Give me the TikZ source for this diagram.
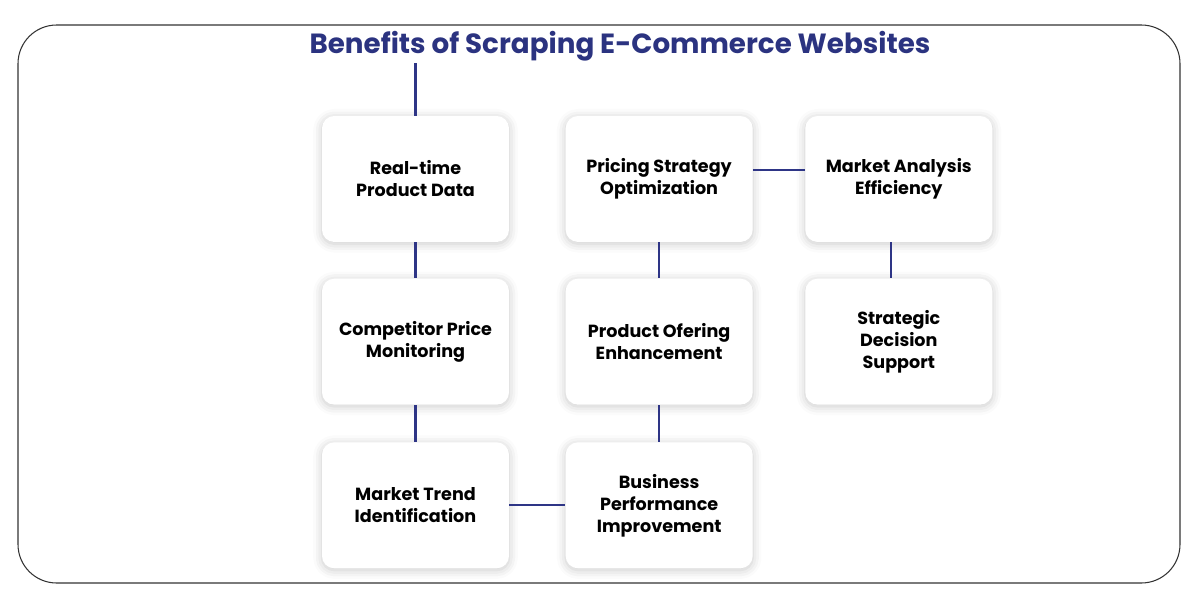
\documentclass[tikz,border=0pt]{standalone}
\usepackage{fontspec}
\setmainfont{Poppins}
\usetikzlibrary{positioning, shadows.blur}
\definecolor{titlenavy}{HTML}{2B3380}
\definecolor{linknavy}{HTML}{2E3586}
\definecolor{framegray}{HTML}{333333}

\begin{document}
\begin{tikzpicture}[
  x=0.02cm, y=-0.02cm,
  benefit/.style={
    rectangle, rounded corners=7pt,
    minimum width=3.74cm, minimum height=2.52cm,
    fill=white, draw=none, align=center,
    font=\fontsize{10}{12.5}\selectfont\bfseries,
    blur shadow={shadow xshift=0pt, shadow yshift=-1pt,
      shadow opacity=22, shadow blur radius=5pt}
  },
  link/.style={draw=linknavy, line width=1.3pt}
]
  \useasboundingbox (0,0) rectangle (1198,599);

  % Outer frame
  \draw[framegray, line width=0.6pt, rounded corners=22pt] (18,25) rectangle (1180,583);

  % Title
  \node[font=\fontsize{15.8}{18}\selectfont\bfseries, text=titlenavy, inner sep=1pt] (title) at (620,46)
        {Benefits of Scraping E-Commerce Websites};

  % Left column
  \node[benefit] (rtp) at (415.5,179) {Real-time\\Product Data};
  \node[benefit, below=0.72cm of rtp] (cpm) {Competitor Price\\Monitoring};
  \node[benefit, below=0.74cm of cpm] (mti) {Market Trend\\Identification};

  % Middle column
  \node[benefit, right=1.12cm of rtp] (pso) {Pricing Strategy\\Optimization};
  \node[benefit, below=0.72cm of pso] (poe) {Product Ofering\\Enhancement};
  \node[benefit, below=0.74cm of poe] (bpi) {Business\\Performance\\Improvement};

  % Right column
  \node[benefit, right=1.04cm of pso] (mae) {Market Analysis\\Efficiency};
  \node[benefit, below=0.72cm of mae] (sds) {Strategic\\Decision\\Support};

  % Connectors
  \draw[link] (title.south -| rtp.north) -- (rtp.north);
  \draw[link] (rtp.south) -- (cpm.north);
  \draw[link] (cpm.south) -- (mti.north);
  \draw[link] (pso.south) -- (poe.north);
  \draw[link] (poe.south) -- (bpi.north);
  \draw[link] ([xshift=-0.16cm]mae.south) -- ([xshift=-0.16cm]sds.north);
  \draw[link] ([yshift=0.18cm]pso.east) -- ([yshift=0.18cm]mae.west);
  \draw[link] (mti.east) -- (bpi.west);
\end{tikzpicture}
\end{document}
